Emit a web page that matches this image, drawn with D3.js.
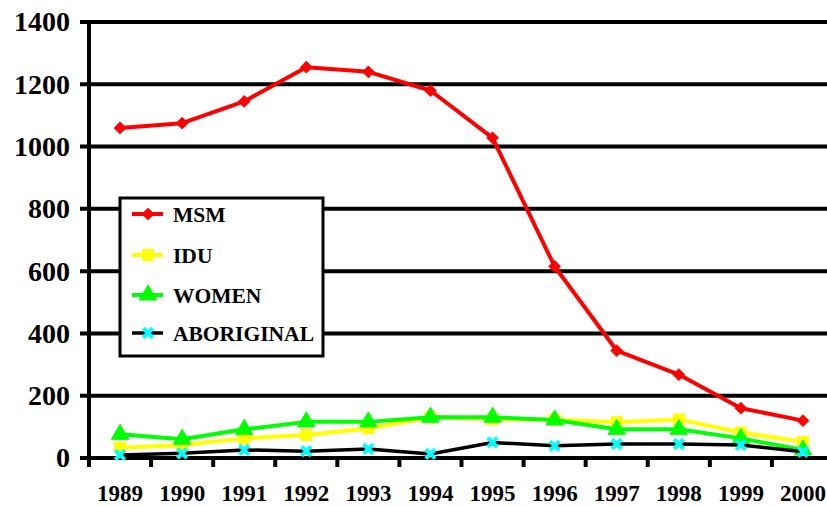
<!DOCTYPE html>
<html>
<head>
<meta charset="utf-8">
<script src="https://cdn.jsdelivr.net/npm/d3@7"></script>
<style>
  body { margin: 0; background: #fff; }
</style>
</head>
<body>
<figure style="margin:0"></figure>
<script>
const years = ['1989', '1990', '1991', '1992', '1993', '1994', '1995', '1996', '1997', '1998', '1999', '2000']
const msm = [1060, 1075, 1145, 1255, 1240, 1180, 1028, 615, 345, 268, 160, 120]
const idu = [33, 42, 63, 74, 95, 131, 125, 124, 115, 124, 82, 52]
const women = [76, 60, 92, 116, 116, 131, 131, 122, 92, 92, 63, 26]
const aboriginal = [10, 15, 26, 22, 29, 13, 50, 39, 45, 45, 42, 20]
const yTicks = [0, 200, 400, 600, 800, 1000, 1200, 1400]

const width = 827
const height = 506
const serif = '"Liberation Serif", "Times New Roman", serif'

const series = [
  { name: 'MSM', values: msm, line: '#ff0000', mark: '#ff0000', symbol: 'diamond', lw: 4 },
  { name: 'IDU', values: idu, line: '#ffff00', mark: '#ffff00', symbol: 'square', lw: 4 },
  { name: 'WOMEN', values: women, line: '#00ff00', mark: '#00ff00', symbol: 'triangle', lw: 4 },
  { name: 'ABORIGINAL', values: aboriginal, line: '#000000', mark: '#00ffff', symbol: 'cross', lw: 3.5 }
]

const x = d3.scaleBand().domain(years).range([89, 834])
const y = d3.scaleLinear().domain([0, 1400]).range([458, 22])

const svg = d3.select('figure').append('svg')
  .attr('width', width)
  .attr('height', height)

const styleText = sel => sel
  .style('font-family', serif)
  .style('font-weight', 'bold')
  .style('fill', '#000')

// grid lines
svg.append('g')
  .selectAll('line')
  .data(yTicks)
  .join('line')
  .attr('x1', 80)
  .attr('x2', width)
  .attr('y1', d => y(d))
  .attr('y2', d => y(d))
  .attr('stroke', '#000')
  .attr('stroke-width', 4)

// y axis
const yAxis = svg.append('g')
  .attr('transform', 'translate(89,0)')
  .call(d3.axisLeft(y).tickValues(yTicks).tickSize(0).tickPadding(19).tickFormat(d3.format('d')))
yAxis.select('.domain').remove()
yAxis.selectAll('text').call(styleText).style('font-size', '28px')
svg.append('line')
  .attr('x1', 89).attr('x2', 89)
  .attr('y1', y(1400) - 2).attr('y2', y(0) + 9)
  .attr('stroke', '#000').attr('stroke-width', 4)

// x axis ticks sit on the band edges
svg.append('g')
  .selectAll('line')
  .data(years)
  .join('line')
  .attr('x1', d => x(d))
  .attr('x2', d => x(d))
  .attr('y1', y(0))
  .attr('y2', y(0) + 9)
  .attr('stroke', '#000')
  .attr('stroke-width', 4)

const xAxis = svg.append('g')
  .attr('transform', `translate(0,${y(0)})`)
  .call(d3.axisBottom(x).tickSize(0).tickPadding(27))
xAxis.select('.domain').remove()
xAxis.selectAll('text').call(styleText).style('font-size', '23px')

const cx = d => x(d) + x.bandwidth() / 2

const symbolOf = {
  diamond: d3.symbol().type(d3.symbolSquare).size(64),
  square: d3.symbol().type(d3.symbolSquare).size(120),
  triangle: d3.symbol().type(d3.symbolTriangle).size(130),
  cross: d3.symbol().type(d3.symbolX).size(60)
}

const line = d3.line()
  .x((d, i) => cx(years[i]))
  .y(d => y(d))

const drawMark = (sel, s) => sel
  .attr('d', symbolOf[s.symbol])
  .attr('fill', s.mark)
  .attr('stroke', s.mark)
  .attr('stroke-width', s.symbol === 'cross' ? 4 : 1)

series.forEach(s => {
  const g = svg.append('g')
  g.append('path')
    .datum(s.values)
    .attr('d', line)
    .attr('fill', 'none')
    .attr('stroke', s.line)
    .attr('stroke-width', s.lw)
    .attr('stroke-linejoin', 'round')
  g.selectAll('path.mark')
    .data(s.values)
    .join('path')
    .attr('class', 'mark')
    .attr('transform', (d, i) => `translate(${cx(years[i])},${y(d)})` + (s.symbol === 'diamond' ? ' rotate(45)' : ''))
    .call(drawMark, s)
})

// legend
const legend = svg.append('g')
legend.append('rect')
  .attr('x', 120).attr('y', 198)
  .attr('width', 203).attr('height', 158)
  .attr('fill', '#fff')
  .attr('stroke', '#000')
  .attr('stroke-width', 3)

const ly = [214, 255, 295, 333]
series.forEach((s, i) => {
  const row = legend.append('g').attr('transform', `translate(0,${ly[i]})`)
  row.append('line')
    .attr('x1', 132).attr('x2', 163)
    .attr('stroke', s.line)
    .attr('stroke-width', s.lw)
  row.append('path')
    .attr('transform', 'translate(148,0)' + (s.symbol === 'diamond' ? ' rotate(45)' : ''))
    .call(drawMark, s)
  row.append('text')
    .attr('x', 173)
    .attr('y', 7.5)
    .call(styleText)
    .style('font-size', '21.5px')
    .text(s.name)
})
</script>
</body>
</html>
